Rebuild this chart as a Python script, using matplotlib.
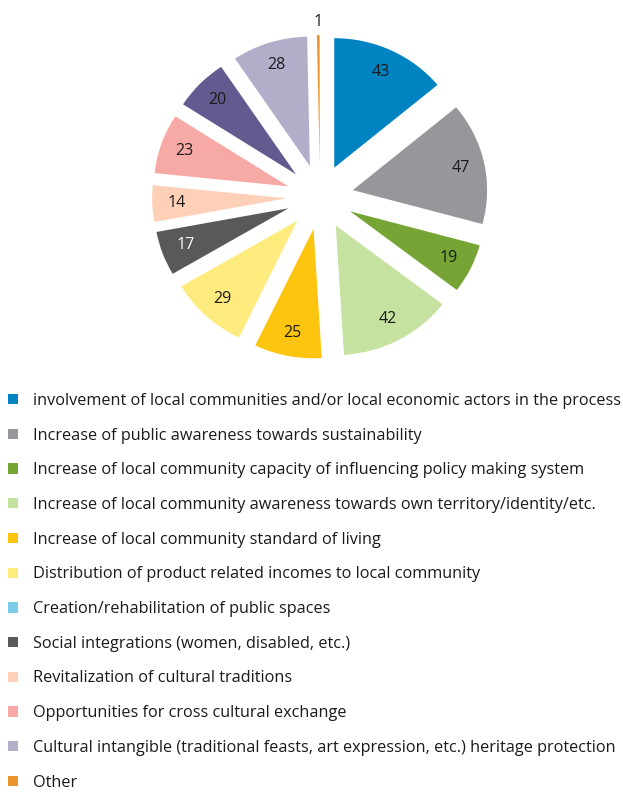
import matplotlib
matplotlib.use("Agg")
import matplotlib.pyplot as plt
from matplotlib.patches import Rectangle
import numpy as np

categories = [
    "involvement of local communities and/or local economic actors in the process",
    "Increase of public awareness towards sustainability",
    "Increase of local community capacity of influencing policy making system",
    "Increase of local community awareness towards own territory/identity/etc.",
    "Increase of local community standard of living",
    "Distribution of product related incomes to local community",
    "Creation/rehabilitation of public spaces",
    "Social integrations (women, disabled, etc.)",
    "Revitalization of cultural traditions",
    "Opportunities for cross cultural exchange",
    "",  # unlabeled slice (not shown in legend)
    "Cultural intangible (traditional feasts, art expression, etc.) heritage protection",
    "Other",
]
values = [43, 47, 19, 42, 25, 29, 0, 17, 14, 23, 20, 28, 1]
colors = ["#0083C1", "#96979B", "#76A535", "#C6E2A0", "#FDC50F", "#FEEB7E",
          "#7DCBE9", "#58595B", "#FDD0B7", "#F7A9A5", "#655A90", "#B2AECA", "#E8952E"]
label_colors = ["#1a1a1a"] * 13
label_colors[7] = "white"

plt.rcParams['font.family'] = ['Open Sans', 'DejaVu Sans']

W, H = 623, 792
fig = plt.figure(figsize=(W / 100, H / 100), dpi=100)

SX, SY = 134.3, 129.5   # px per unit radius (horizontal, vertical)
cx, cy = 320.0, 197.0
lim = 1.3
ax = fig.add_axes([(cx - lim * SX) / W, (H - cy - lim * SY) / H,
                   2 * lim * SX / W, 2 * lim * SY / H])

explode = [0.25] * len(values)
wedges, _ = ax.pie(values, colors=colors, startangle=90, counterclock=False,
                   explode=explode, radius=1.0,
                   wedgeprops=dict(linewidth=0), normalize=True)
ax.set_xlim(-lim, lim)
ax.set_ylim(-lim, lim)
ax.set_aspect('auto')
ax.axis('off')

for w, v, lc in zip(wedges, values, label_colors):
    if v <= 0:
        continue
    ang = np.deg2rad((w.theta1 + w.theta2) / 2)
    d = 0.82 if v >= 5 else 1.1
    x = 0.25 * np.cos(ang) + d * np.cos(ang)
    y = 0.25 * np.sin(ang) + d * np.sin(ang)
    ax.text(x, y, str(v), ha='center', va='center', fontsize=11.5, color=lc)

handles = []
labels = []
for c, lab in zip(colors, categories):
    if lab == "":
        continue
    handles.append(Rectangle((0, 0), 1, 1, facecolor=c, edgecolor='none'))
    labels.append(lab)

fig.legend(handles, labels, loc='upper left',
           bbox_to_anchor=(8 / W, 1 - 393 / H), frameon=False,
           fontsize=11.7, handlelength=0.6, handleheight=0.6,
           handletextpad=0.92, labelspacing=1.15, borderpad=0, borderaxespad=0,
           labelcolor='#1a1a1a')

fig.savefig("out.png", dpi=100)
